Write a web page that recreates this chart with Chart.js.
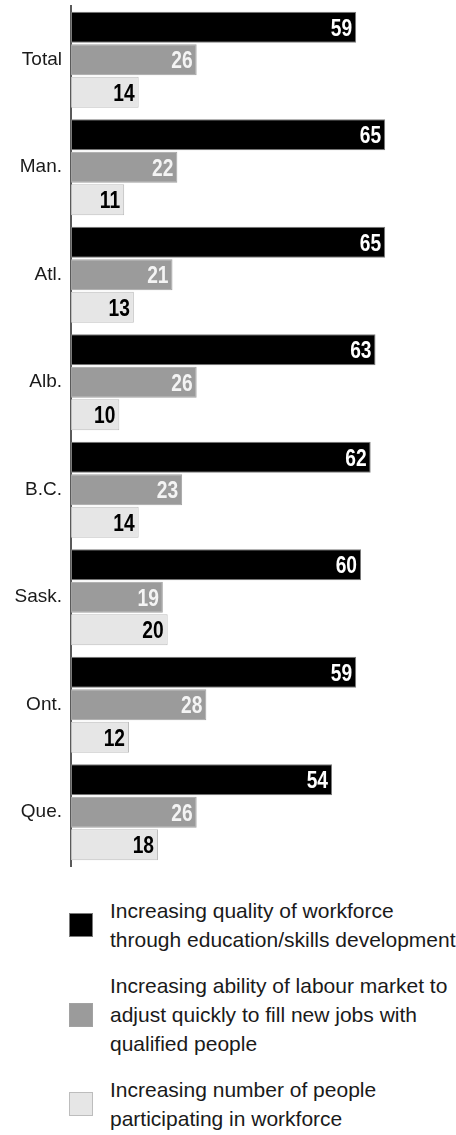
<!DOCTYPE html>
<html>
<head>
<meta charset="utf-8">
<script src="https://cdn.jsdelivr.net/npm/chart.js@4.4.1/dist/chart.umd.min.js"></script>
<style>
  body { margin: 0; background: #fff; font-family: "Liberation Sans", Arial, sans-serif; color: #1a1a1a; }
  #wrap { position: relative; width: 456px; height: 870px; }
  #legend { margin-top: 26px; }
  .item { display: flex; align-items: center; margin-bottom: 17px; }
  .box { width: 24px; height: 24px; box-sizing: border-box; margin-left: 69px; margin-right: 17px; flex: none; }
  .txt { font-size: 21px; line-height: 29px; white-space: nowrap; }
</style>
</head>
<body>
<div id="wrap"><canvas id="prioChart" width="456" height="870"></canvas></div>
<div id="legend"></div>

<script>
// Regions and the three priority series (percent)
const regions = ['Total', 'Man.', 'Atl.', 'Alb.', 'B.C.', 'Sask.', 'Ont.', 'Que.'];
const qualityVals = [59, 65, 65, 63, 62, 60, 59, 54];
const adjustVals = [26, 22, 21, 26, 23, 19, 28, 26];
const participateVals = [14, 11, 13, 10, 14, 20, 12, 18];
const seriesNames = [
    ['Increasing quality of workforce', 'through education/skills development'],
    ['Increasing ability of labour market to', 'adjust quickly to fill new jobs with', 'qualified people'],
    ['Increasing number of people', 'participating in workforce']
];

const fills = ['#000000', '#9b9b9b', '#e6e6e6'];
const borders = ['#7a7a7a', '#a2a2a2', '#bdbdbd'];
const labelColors = ['#ffffff', '#f4f4f4', '#000000'];

// Writes each value inside the right end of its bar, in a narrowed face
const valueLabels = {
    id: 'valueLabels',
    afterDatasetsDraw(chart) {
        const ctx = chart.ctx;
        chart.data.datasets.forEach(function (ds, i) {
            const meta = chart.getDatasetMeta(i);
            meta.data.forEach(function (bar, j) {
                ctx.save();
                ctx.translate(bar.x - 4, bar.y + 8.5);
                ctx.scale(0.8, 1);
                ctx.font = 'bold 24px "Liberation Sans", Arial, sans-serif';
                ctx.fillStyle = labelColors[i];
                ctx.textAlign = 'right';
                ctx.textBaseline = 'alphabetic';
                ctx.fillText(String(ds.data[j]), 0, 0);
                ctx.restore();
            });
        });
    }
};

const ctx = document.getElementById('prioChart').getContext('2d');
const prioChart = new Chart(ctx, {
    type: 'bar',
    data: {
        labels: regions,
        datasets: [qualityVals, adjustVals, participateVals].map(function (vals, i) {
            return {
                label: seriesNames[i].join(' '),
                data: vals,
                backgroundColor: fills[i],
                borderColor: borders[i],
                borderWidth: 1,
                borderSkipped: false,
                categoryPercentage: 0.905,
                barPercentage: 0.955
            };
        })
    },
    options: {
        indexAxis: 'y',
        responsive: false,
        animation: false,
        layout: { padding: { top: 6, bottom: 4, left: 0, right: 8 } },
        plugins: { legend: { display: false }, tooltip: { enabled: false } },
        scales: {
            x: { display: false, min: 0, max: 78 },
            y: {
                grid: { display: false, drawTicks: false },
                border: { display: true, color: '#5a5a5a', width: 2 },
                ticks: {
                    padding: 9,
                    color: '#1a1a1a',
                    font: { family: '"Liberation Sans", Arial, sans-serif', size: 19 }
                },
                afterFit(scale) {
                    // fixed axis width, and no extra room above/below for the labels
                    scale.width = 71;
                    scale.paddingTop = 0;
                    scale.paddingBottom = 0;
                }
            }
        }
    },
    plugins: [valueLabels]
});

// HTML legend, since the entries wrap over several lines
const legend = document.getElementById('legend');
seriesNames.forEach(function (lines, i) {
    const item = document.createElement('div');
    item.className = 'item';
    item.innerHTML = '<div class="box" style="background:' + fills[i] + ';border:1px solid ' + borders[i] + '"></div>' +
        '<div class="txt">' + lines.join('<br>') + '</div>';
    legend.appendChild(item);
});
</script>
</body>
</html>
